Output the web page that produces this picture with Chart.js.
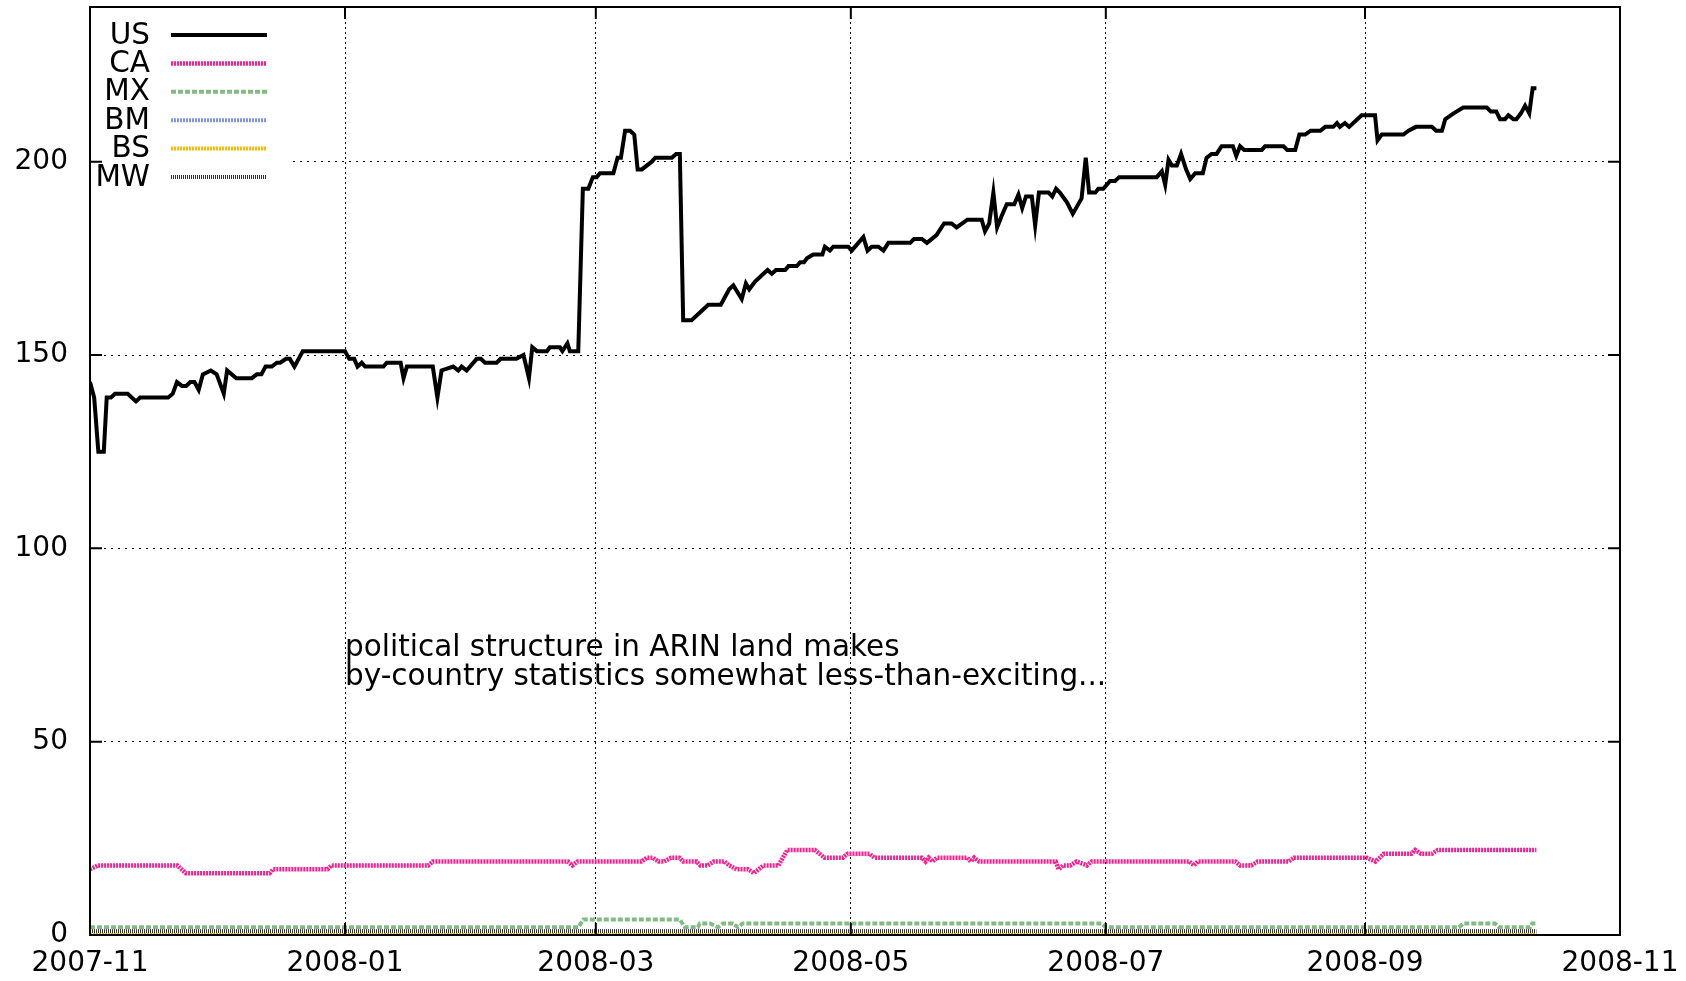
<!DOCTYPE html>
<html>
<head>
<meta charset="utf-8">
<title>ARIN by country</title>
<script src="https://cdn.jsdelivr.net/npm/chart.js@4.4.1/dist/chart.umd.min.js"></script>
<style>
    html, body { margin: 0; padding: 0; background: #fff; overflow: hidden; }
    canvas { display: block; }
</style>
</head>
<body>
<canvas id="chart" width="1686" height="981"></canvas>
<script>
"use strict";

// x is days since 2007-11-01
const xTickDays = [0, 61, 121, 182, 243, 305, 366];
const xTickLabels = ["2007-11", "2008-01", "2008-03", "2008-05", "2008-07", "2008-09", "2008-11"];
const yTicks = [0, 50, 100, 150, 200];

const countries = ["US", "CA", "MX", "BM", "BS", "MW"];

const US = [[0,143],[1,139],[2,125],[3.3,125],[4,139],[5,139],[6,140],[9,140],[11,138],[12,139],[18.7,139],[19.8,140],
    [20.8,143],[22,142],[23,142],[24,143],[25,143],[26,141],[27,145],[28.9,146],[30.3,145],[32,140],[32.8,146],[35,144],
    [38.7,144],[39.9,145],[41,145],[42,147],[43.5,147],[44.7,148],[45.5,148],[46.9,149],[47.8,149],[48.9,147],[50.9,151],
    [61,151],[62,149],[63.2,149],[64,147],[65,148],[65.8,147],[70.2,147],[71,148],[74.3,148],[75,144],[75.8,147],[82,147],
    [83.1,139],[84.1,146],[86.9,147],[88.1,146],[88.9,147],[90.1,146],[92.5,149],[93.5,149],[94.5,148],[97.3,148],[98.2,149],
    [102,149],[103.7,150],[105,144],[105.8,152],[106.9,151],[109.3,151],[110,152],[112.4,152],[113,151],[114.2,153],[114.8,151],
    [116.8,151],[117.9,193],[119.2,193],[120.3,196],[121.2,196],[122,197],[125.2,197],[126.2,201],[127,201],[128,208],
    [129.2,208],[130.2,207],[131,198],[132,198],[134.4,200],[135.2,201],[139.2,201],[140.2,202],[141.1,202],[141.9,159],
    [143.9,159],[147.9,163],[150.9,163],[152.9,167],[153.9,168],[155.9,164.5],[156.9,168.5],[157.7,167],[159.1,169],
    [161.1,171],[162.1,172],[163.1,171],[164.1,172],[166.3,172],[167.1,173],[169.1,173],[169.9,174],[170.8,174],[171.5,175],
    [173,176],[175.2,176],[175.8,178],[177,177],[177.8,178],[181.4,178],[182.2,177],[185,180.5],[186,177],[187,178],
    [188.6,178],[189.8,177],[191,179],[196.2,179],[197.1,180],[199,180],[200.2,179],[202.5,181],[204.3,184],[206.1,184],
    [207.3,183],[209.9,185],[213.3,185],[214.1,182],[215.1,184],[216.1,192],[217,183],[218.1,186],[219.3,189],[221.1,189],
    [222.1,191.5],[223,188],[223.9,191],[225.3,191],[226.1,183.5],[227,192],[229.3,192],[230.2,191],[231.1,193],[232,192],
    [233.7,189.5],[235.1,186.5],[237.2,190.5],[238.2,201],[239,192],[240.5,192],[241.2,193],[242.4,193],[244,195],[245.2,195],
    [246.2,196],[255.2,196],[256.4,197.5],[257.2,194],[258,200.5],[258.8,199],[260,199],[261,202],[262.2,198],[263.2,195.5],
    [264.4,197],[266.2,197],[267.1,201],[268.3,202],[269.5,202],[270.7,204],[273.4,204],[274.2,201.5],[275.1,204],[276.1,203],
    [280.3,203],[281.1,204],[285.5,204],[286.4,203],[288.3,203],[289.3,207],[290.7,207],[292,208],[294.3,208],[295.5,209],
    [297.4,209],[298.3,210],[299,209],[300.2,210],[301.2,209],[304.2,212],[307.4,212],[308,205.5],[309,207],[314.2,207],
    [315.4,208],[317.2,209],[321,209],[322,208],[323.4,208],[324.2,211],[326.2,212.5],[328.5,214],[334.1,214],[335.1,213],
    [336.4,213],[337.3,211],[338.5,211],[339.3,212],[340.5,211],[341.2,211],[342.3,212.5],[343.3,214.5],[344.3,212.5],
    [345.1,219],[346,219]];

const CA = [[0,17],[1.9,18],[20.9,18],[22.9,16],[43,16],[43.8,17],[56.8,17],[57.8,18],[80.9,18],[82,19],[114.3,19],
    [115.4,18],[116.6,19],[131.9,19],[133.2,20],[134.6,20],[136,19],[137.3,19],[139,20],[141,20],[141.9,19],[145.1,19],
    [146,18],[147.8,18],[149.2,19],[151.8,19],[152.9,18],[154.7,17],[157.4,17],[158.8,16],[161.1,18],[164.7,18],[166.8,22],
    [173.4,22],[175.7,20],[180.1,20],[181.2,21],[186.5,21],[187.6,20],[199,20],[199.9,19],[200.6,20],[201.5,19],[202.6,20],
    [209.9,20],[210.7,19],[211.5,20],[212.7,19],[231,19],[231.7,17],[232.8,18],[234.5,18],[236,19],[238.5,18],[239.6,19],
    [263,19],[264.1,18],[265,19],[274,19],[275.1,18],[277.8,18],[279.3,19],[286.7,19],[288,20],[305.4,20],[307.5,19],
    [309.5,21],[316.1,21],[317,22],[318.4,21],[321,21],[322.4,22],[346,22]];

const MX = [[0,2],[116.8,2],[118,4],[141.1,4],[142.3,2],[145.4,2],[145.9,3],[148.3,3],[150.2,2],[151.4,3],[153.8,3],
    [155,2],[156.1,3],[242,3],[243,2],[327.5,2],[328.5,3],[336.1,3],[337,2],[344.5,2],[345,3],[346,3]];

const BM = [[0,0],[346,0]];
const BS = [[0,0],[346,0]];
const MW = [[0,1],[346,1]];

const noteLines = ["political structure in ARIN land makes",
    "by-country statistics somewhat less-than-exciting..."];

const FONT = "'DejaVu Sans', sans-serif";
const FONT_SIZE = 28;

const canvas = document.getElementById("chart");

// frame with inward ticks on all four sides, like gnuplot
const framePlugin = {
    id: "frame",
    beforeDatasetsDraw(chart) {
        // key area is opaque
        const ctx = chart.ctx;
        ctx.save();
        ctx.fillStyle = "#fff";
        ctx.fillRect(chart.chartArea.left + 2, chart.chartArea.top + 2, 196, 186);
        ctx.restore();
    },
    afterDraw(chart) {
        const ctx = chart.ctx;
        const a = chart.chartArea;
        const xs = chart.scales.x, ys = chart.scales.y;
        ctx.save();
        ctx.strokeStyle = "#000";
        ctx.lineWidth = 2;
        ctx.strokeRect(a.left, a.top, a.right - a.left, a.bottom - a.top);
        ctx.beginPath();
        const len = 12;
        xTickDays.forEach(d => {
            const px = xs.getPixelForValue(d);
            ctx.moveTo(px, a.bottom); ctx.lineTo(px, a.bottom - len);
            ctx.moveTo(px, a.top); ctx.lineTo(px, a.top + len);
        });
        yTicks.forEach(v => {
            const py = ys.getPixelForValue(v);
            ctx.moveTo(a.left, py); ctx.lineTo(a.left + len, py);
            ctx.moveTo(a.right, py); ctx.lineTo(a.right - len, py);
        });
        ctx.stroke();

        // key: label right aligned, sample on the right
        ctx.font = "29.5px " + FONT;
        ctx.textAlign = "right";
        ctx.textBaseline = "middle";
        chart.data.datasets.forEach((ds, i) => {
            const y = a.top + 28 + i * 28.4;
            ctx.fillStyle = "#000";
            ctx.fillText(ds.label, a.left + 60, y + 1);
            ctx.beginPath();
            ctx.strokeStyle = ds.borderColor;
            ctx.lineWidth = ds.borderWidth;
            ctx.setLineDash(ds.borderDash || []);
            ctx.moveTo(a.left + 81, y);
            ctx.lineTo(a.left + 177, y);
            ctx.stroke();
            ctx.setLineDash([]);
        });

        // note text
        ctx.font = "29.5px " + FONT;
        ctx.fillStyle = "#000";
        ctx.textAlign = "left";
        noteLines.forEach((t, i) => ctx.fillText(t, xs.getPixelForValue(61), ys.getPixelForValue(75) + i * 29 + 3));
        ctx.restore();
    }
};

new Chart(canvas, {
    type: "line",
    data: {
        datasets: [
            { label: countries[0], data: US, borderColor: "#000", borderWidth: 4, order: 5 },
            { label: countries[1], data: CA, borderColor: "rgb(255,30,140)", borderWidth: 4.5, borderDash: [2, 1], order: 4 },
            { label: countries[2], data: MX, borderColor: "rgba(100,170,100,0.8)", borderWidth: 4, borderDash: [5, 2], order: 3 },
            { label: countries[3], data: BM, borderColor: "rgb(125,150,230)", borderWidth: 4, borderDash: [2, 1], order: 2 },
            { label: countries[4], data: BS, borderColor: "rgb(255,185,0)", borderWidth: 4, borderDash: [2, 1], order: 1 },
            { label: countries[5], data: MW, borderColor: "rgb(50,50,50)", borderWidth: 4, borderDash: [1, 1], order: 0 },
        ]
    },
    options: {
        responsive: false,
        animation: false,
        devicePixelRatio: 1,
        layout: { padding: { top: 7, right: 66, left: 0, bottom: 0 } },
        elements: {
            point: { radius: 0 },
            line: { tension: 0, borderJoinStyle: "miter", borderCapStyle: "butt" }
        },
        plugins: {
            legend: { display: false },
            tooltip: { enabled: false }
        },
        scales: {
            x: {
                type: "linear",
                min: 0,
                max: 366,
                afterBuildTicks: scale => { scale.ticks = xTickDays.map(v => ({ value: v })); },
                afterFit: scale => { scale.height = 46; scale.paddingLeft = 0; scale.paddingRight = 0; },
                ticks: {
                    autoSkip: false,
                    maxRotation: 0,
                    padding: 12,
                    color: "#000",
                    font: { family: FONT, size: FONT_SIZE },
                    callback: (value, index) => xTickLabels[index]
                },
                grid: { color: "#000", lineWidth: 1, drawTicks: false },
                border: { display: false, dash: [2, 3] }
            },
            y: {
                min: 0,
                max: 240,
                afterBuildTicks: scale => { scale.ticks = yTicks.map(v => ({ value: v })); },
                afterFit: scale => { scale.width = 90; scale.paddingTop = 0; scale.paddingBottom = 0; },
                ticks: {
                    padding: 22,
                    color: "#000",
                    font: { family: FONT, size: FONT_SIZE }
                },
                grid: { color: "#000", lineWidth: 1, drawTicks: false },
                border: { display: false, dash: [2, 5] }
            }
        }
    },
    plugins: [framePlugin]
});
</script>
</body>
</html>
